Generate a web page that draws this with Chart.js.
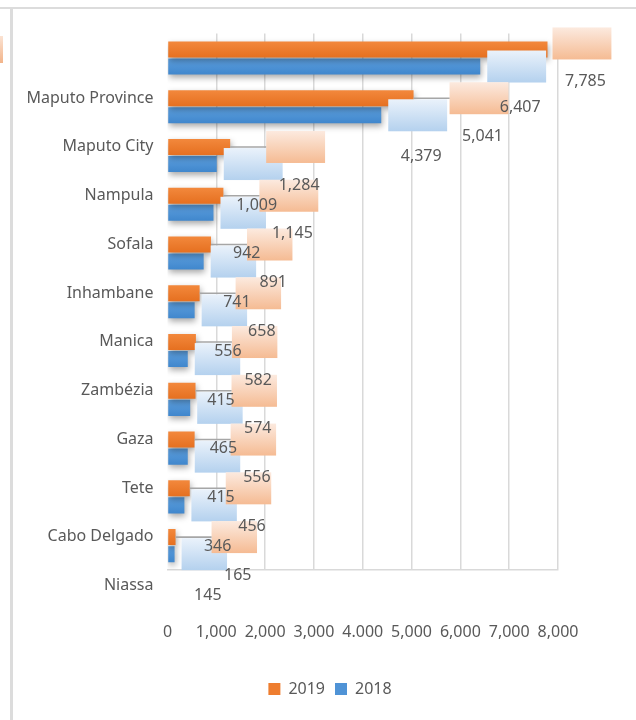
<!DOCTYPE html>
<html>
<head>
<meta charset="utf-8">
<title>Bar chart</title>
<script src="https://cdn.jsdelivr.net/npm/chart.js@4.4.1/dist/chart.umd.min.js"></script>
<style>
  html, body { margin: 0; padding: 0; background: #fff; overflow: hidden; }
  body { width: 636px; height: 720px; position: relative; }
  #topline { position: absolute; left: 0; top: 7px; width: 636px; height: 2px; background: #DCDCDC; }
  #leftline { position: absolute; left: 10px; top: 9px; width: 3px; height: 711px; background: #DCDCDC; z-index: 2; }
  #mark { position: absolute; left: 0; top: 36px; width: 3px; height: 27px; background: linear-gradient(#FBE3D3, #F2B48A); }
  #wrap { position: absolute; left: 12px; top: 10px; width: 636px; height: 710px; }
</style>
</head>
<body>
<div id="topline"></div>
<div id="leftline"></div>
<div id="mark"></div>
<div id="wrap"><canvas id="chart" width="636" height="710"></canvas></div>
<script>
var provinces = ['Maputo Province', 'Maputo City', 'Nampula', 'Sofala', 'Inhambane', 'Manica', 'Zambézia', 'Gaza', 'Tete', 'Cabo Delgado', 'Niassa'];
var values2019 = [7785, 5041, 1284, 1145, 891, 658, 582, 574, 556, 456, 165];
var values2018 = [6407, 4379, 1009, 942, 741, 556, 415, 465, 415, 346, 145];
var xTickLabels = ['0', '1,000', '2,000', '3,000', '4.000', '5,000', '6,000', '7,000', '8,000'];

var FONT = '"Noto Sans", "Open Sans", sans-serif';
var TEXT = '#595959';

// vertical gradient for each bar, worked out from the category scale
function barFill(solid, top, bottom, first) {
    return function (c) {
        var y = c.chart.scales.y;
        if (c.type !== 'data' || !y || y.top === undefined) return solid;
        var mid = y.getPixelForValue(c.dataIndex);
        var y0 = first ? mid - 17 : mid;
        var g = c.chart.ctx.createLinearGradient(0, y0, 0, y0 + 17);
        g.addColorStop(0, top);
        g.addColorStop(1, bottom);
        return g;
    };
}

// soft shadow under the bars
var shadowPlugin = {
    id: 'barShadow',
    beforeDatasetsDraw: function (chart) {
        var ctx = chart.ctx;
        ctx.save();
        ctx.shadowColor = 'rgba(0,0,0,0.35)';
        ctx.shadowBlur = 6;
        ctx.shadowOffsetX = 1;
        ctx.shadowOffsetY = 3;
    },
    afterDatasetsDraw: function (chart) {
        chart.ctx.restore();
    }
};

// value callouts: shaded box beside each bar, text set below it
var calloutPlugin = {
    id: 'callouts',
    afterDatasetsDraw: function (chart) {
        var ctx = chart.ctx;
        var area = chart.chartArea;
        ctx.save();
        ctx.font = '16px ' + FONT;
        var items = [];
        chart.data.datasets.forEach(function (ds, di) {
            var meta = chart.getDatasetMeta(di);
            meta.data.forEach(function (bar, i) {
                var text = ds.data[i].toLocaleString('en-US');
                var w = ctx.measureText(text).width + 18;
                var h = 32;
                var x, y, lead = false;
                if (di === 0) {
                    x = bar.x + 36;
                    y = bar.y - h / 2;
                    lead = true;
                    if (x + w > area.right + 60) {
                        x = bar.x + 5;
                        y -= 6;
                        lead = false;
                    }
                } else {
                    x = bar.x + 7;
                    y = bar.y - h / 2;
                }
                items.push({ di: di, bar: bar, text: text, x: x, y: y, w: w, h: h, lead: lead });
            });
        });

        var fills = [
            ['#FCEADF', '#F5BB93'],
            ['#EAF2FB', '#B4D1EE']
        ];
        // blue boxes first, orange on top
        [1, 0].forEach(function (di) {
            items.filter(function (it) { return it.di === di; }).forEach(function (it) {
                var g = ctx.createLinearGradient(0, it.y, 0, it.y + it.h);
                g.addColorStop(0, fills[di][0]);
                g.addColorStop(1, fills[di][1]);
                ctx.fillStyle = g;
                ctx.fillRect(it.x, it.y, it.w, it.h);
                if (it.lead) {
                    ctx.strokeStyle = '#A6A6A6';
                    ctx.lineWidth = 1.6;
                    ctx.beginPath();
                    ctx.moveTo(it.bar.x, it.bar.y);
                    ctx.lineTo(it.x, it.bar.y);
                    ctx.stroke();
                }
            });
        });

        ctx.fillStyle = TEXT;
        ctx.textAlign = 'center';
        ctx.textBaseline = 'middle';
        items.forEach(function (it) {
            var cx = it.x + it.w / 2 + 3.5;
            var cy = it.y + it.h / 2 + (it.di === 0 ? 38 : 41);
            ctx.fillText(it.text, cx, cy);
        });
        ctx.restore();
    }
};

var ctx = document.getElementById('chart').getContext('2d');

var chart = new Chart(ctx, {
    type: 'bar',
    data: {
        labels: provinces,
        datasets: [{
            label: '2019',
            data: values2019,
            backgroundColor: barFill('#EE7D2F', '#F3893D', '#E56F1F', true),
            borderWidth: 0,
            categoryPercentage: 0.7,
            barPercentage: 0.94
        }, {
            label: '2018',
            data: values2018,
            backgroundColor: barFill('#4F93D6', '#5EA0DF', '#3F86CC', false),
            borderWidth: 0,
            categoryPercentage: 0.7,
            barPercentage: 0.94
        }]
    },
    options: {
        indexAxis: 'y',
        responsive: false,
        animation: false,
        events: [],
        layout: { padding: { top: 21, left: 0, right: 0, bottom: 13 } },
        scales: {
            x: {
                min: 0,
                max: 8000,
                ticks: {
                    stepSize: 1000,
                    autoSkip: false,
                    maxRotation: 0,
                    padding: 53,
                    color: TEXT,
                    font: { family: FONT, size: 16 },
                    callback: function (v, i) { return xTickLabels[i]; }
                },
                grid: {
                    drawTicks: false,
                    lineWidth: 1.5,
                    color: function (c) { return c.index === 0 ? 'rgba(0,0,0,0)' : '#D9D9D9'; }
                },
                border: { display: true, color: '#D9D9D9', width: 1.5 },
                afterFit: function (s) { s.height = 101; }
            },
            y: {
                ticks: {
                    padding: 14,
                    labelOffset: 40,
                    color: TEXT,
                    font: { family: FONT, size: 16 }
                },
                grid: { display: false, drawTicks: false },
                border: { display: false },
                afterFit: function (s) { s.width = 155.5; }
            },
            y2: {
                type: 'linear',
                position: 'right',
                ticks: { display: false },
                grid: { display: false },
                border: { display: false },
                afterFit: function (s) { s.width = 90; }
            }
        },
        plugins: {
            legend: {
                position: 'bottom',
                labels: {
                    boxWidth: 12,
                    boxHeight: 12,
                    padding: 10,
                    color: TEXT,
                    font: { family: FONT, size: 16 },
                    generateLabels: function (chart) {
                        var solid = ['#EE7D2F', '#4F93D6'];
                        return chart.data.datasets.map(function (ds, i) {
                            return {
                                text: ds.label,
                                fillStyle: solid[i],
                                strokeStyle: solid[i],
                                lineWidth: 0,
                                fontColor: TEXT,
                                datasetIndex: i
                            };
                        });
                    }
                }
            },
            tooltip: { enabled: false }
        }
    },
    plugins: [shadowPlugin, calloutPlugin]
});
</script>
</body>
</html>
